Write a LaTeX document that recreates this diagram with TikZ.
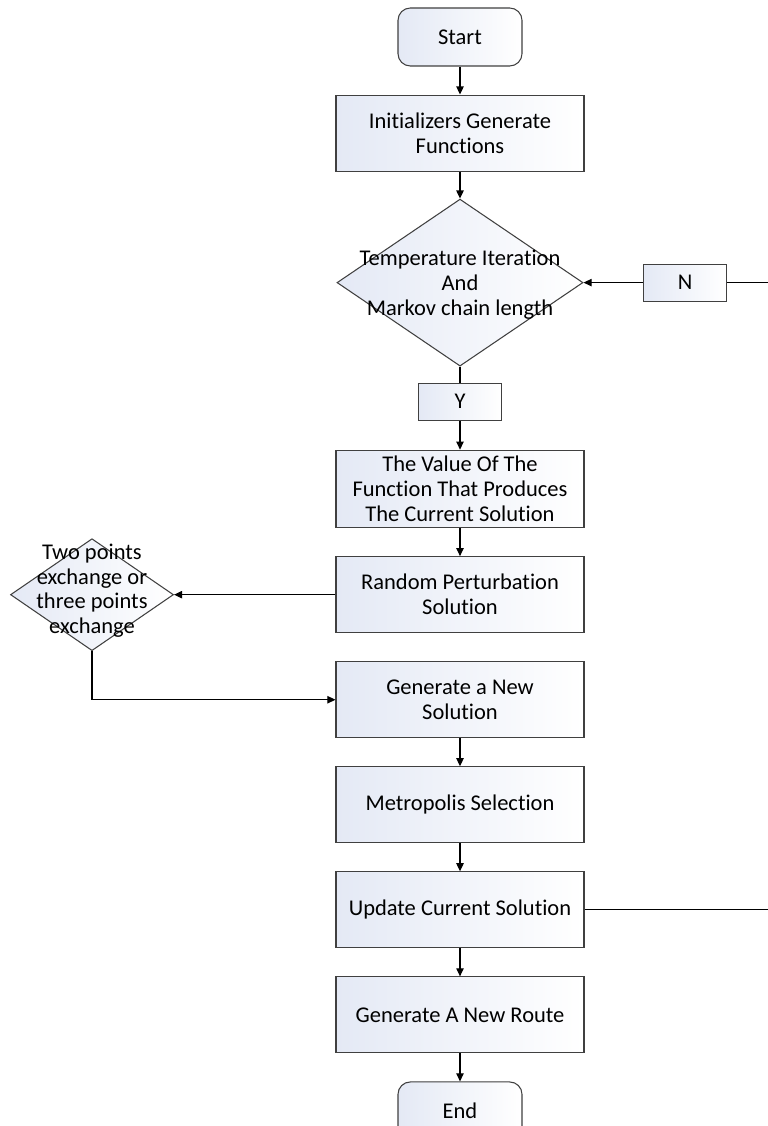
\documentclass[tikz,border=0pt]{standalone}
\usepackage{fontspec}
\setmainfont{Carlito}[Ligatures=NoCommon]
\usetikzlibrary{arrows.meta,positioning,shapes.geometric}
\definecolor{boxtint}{RGB}{228,233,245}

\begin{document}
\begin{tikzpicture}[
        >={Triangle[length=4.6pt,width=4.2pt]},
        node distance=0.56cm,
        font=\fontsize{12.8}{14.2}\selectfont,
        shaded/.style={
            draw=black!75,
            line width=0.6pt,
            left color=boxtint,
            right color=white
        },
        box/.style={
            shaded,
            align=center,
            minimum width=4.96cm,
            minimum height=1.52cm
        },
        term/.style={
            shaded,
            rounded corners=7pt,
            minimum width=2.48cm,
            minimum height=1.16cm
        },
        decision/.style={
            shaded,
            diamond,
            inner sep=0pt
        },
        tag/.style={
            shaded,
            minimum width=1.66cm,
            minimum height=0.74cm
        },
        line/.style={line width=0.65pt}
    ]
        \useasboundingbox (0,0) rectangle (15.36,-22.52);

        \node[term] (start) at (9.2,-0.74) {Start};
        \node[box, below=of start] (init) {Initializers Generate\\Functions};
        \node[decision, minimum width=4.92cm, minimum height=3.34cm, below=0.54cm of init] (temp) {};
        \node[align=center] (temptxt) at ([yshift=-0.04cm]temp) {Temperature Iteration\\And\\Markov chain length};
        \node[tag, below=0.32cm of temp] (yes) {Y};
        \node[tag] (no) at (13.7,0 |- temp) {N};
        \node[box, below=0.58cm of yes] (value) {The Value Of The\\Function That Produces\\The Current Solution};
        \node[box, below=of value] (rand) {Random Perturbation\\Solution};
        \node[decision, minimum width=3.26cm, minimum height=2.24cm] (swap) at (1.84,0 |- rand) {};
        \node[align=center] (swaptxt) at ([yshift=0.08cm]swap) {Two points\\exchange or\\three points\\exchange};
        \node[box, below=of rand] (gen) {Generate a New\\Solution};
        \node[box, below=of gen] (metro) {Metropolis Selection};
        \node[box, below=of metro] (upd) {Update Current Solution};
        \node[box, below=of upd] (route) {Generate A New Route};
        \node[term, below=of route] (end) {End};

        \coordinate (nright) at (15.36,0 |- no);
        \coordinate (uright) at (15.36,0 |- upd);

        \draw[line, ->] (start) -- (init);
        \draw[line, ->] (init) -- (temp);
        \draw[line] (temp) -- (yes);
        \draw[line, ->] (yes) -- (value);
        \draw[line, ->] (value) -- (rand);
        \draw[line, ->] (rand) -- (swap);
        \draw[line, ->] (swap.south) |- (gen.west);
        \draw[line, ->] (gen) -- (metro);
        \draw[line, ->] (metro) -- (upd);
        \draw[line, ->] (upd) -- (route);
        \draw[line, ->] (route) -- (end);
        \draw[line, ->] (no) -- (temp);
        \draw[line] (no) -- (nright);
        \draw[line] (upd) -- (uright);
    \end{tikzpicture}
\end{document}
